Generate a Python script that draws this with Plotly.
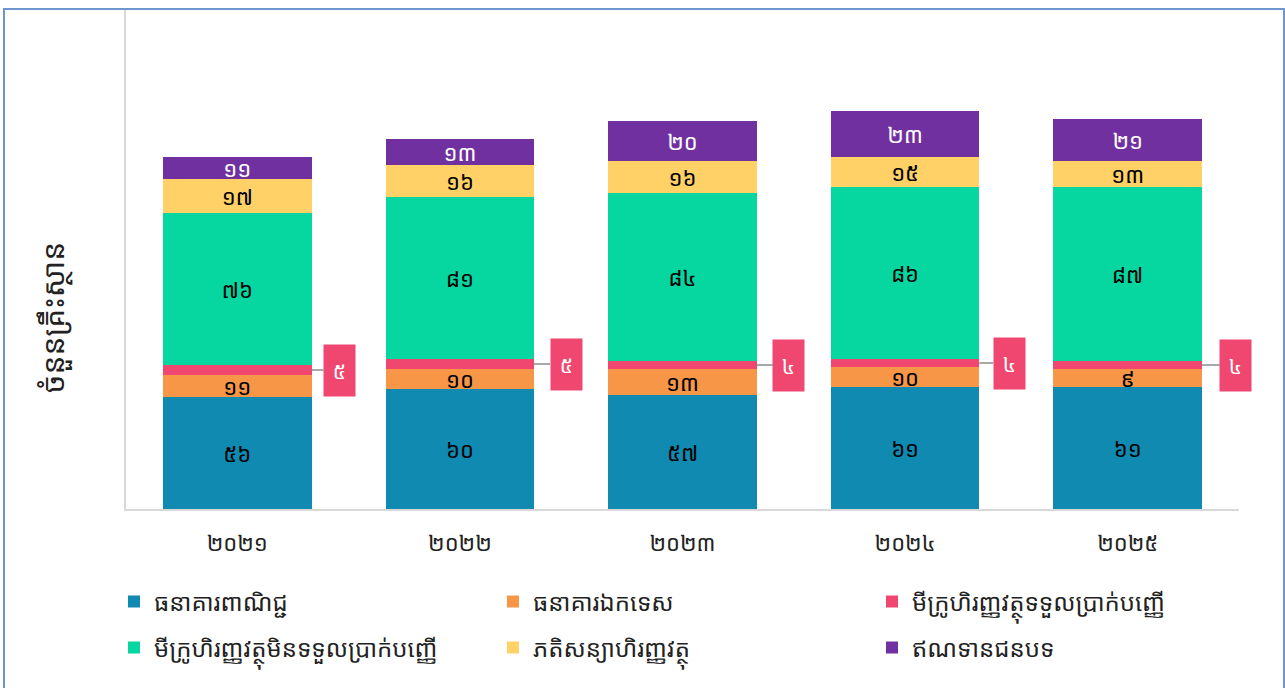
import plotly.graph_objects as go

years = ["២០២១", "២០២២", "២០២៣", "២០២៤", "២០២៥"]
series_names = [
    "ធនាគារពាណិជ្ជ",
    "ធនាគារឯកទេស",
    "មីក្រូហិរញ្ញវត្ថុទទួលប្រាក់បញ្ញើ",
    "មីក្រូហិរញ្ញវត្ថុមិនទទួលប្រាក់បញ្ញើ",
    "ភតិសន្យាហិរញ្ញវត្ថុ",
    "ឥណទានជនបទ",
]
commercial_banks = [56, 60, 57, 61, 61]
specialized_banks = [11, 10, 13, 10, 9]
mdi = [5, 5, 4, 4, 4]
mfi = [76, 81, 84, 86, 87]
leasing = [17, 16, 16, 15, 13]
rural_credit = [11, 13, 20, 23, 21]
y_title = "ចំនួនគ្រឹះស្ថាន"

series_values = [commercial_banks, specialized_banks, mdi, mfi, leasing, rural_credit]
colors = ["#118AB2", "#F79646", "#EF476F", "#06D6A0", "#FFD166", "#7030A0"]
text_colors = ["#000000", "#000000", "#FFFFFF", "#000000", "#000000", "#FFFFFF"]

KH = "០១២៣៤៥៦៧៨៩"
def kh(n):
    return "".join(KH[int(c)] for c in str(n))

FONT = "Noto Sans Khmer, Khmer OS, Khmer OS System, Noto Sans, sans-serif"

fig = go.Figure()
x = list(range(len(years)))
for i, (name, vals) in enumerate(zip(series_names, series_values)):
    show_text = i != 2
    fig.add_trace(go.Bar(
        x=x, y=vals, name=name,
        marker=dict(color=colors[i], line=dict(width=0)),
        text=[kh(v) for v in vals] if show_text else None,
        textposition="inside" if show_text else "none",
        insidetextanchor="middle",
        textangle=0,
        textfont=dict(color=text_colors[i], size=22, family=FONT),
        legend="legend" if i < 3 else "legend2",
        hoverinfo="skip",
    ))

# pink callouts for the deposit-taking MFI series
offsets = [28, 32, 32, 30, 34]
for j in range(len(years)):
    base = commercial_banks[j] + specialized_banks[j]
    mid = base + mdi[j] / 2
    fig.add_annotation(
        x=j + 0.3333, y=mid, xref="x", yref="y",
        text=kh(mdi[j]), showarrow=True, arrowhead=0, arrowwidth=1.5,
        arrowcolor="#8C8C8C", ax=offsets[j], ay=0, axref="pixel", ayref="pixel",
        bgcolor="#EF476F", width=31, height=51, borderpad=0,
        font=dict(color="#FFFFFF", size=21, family=FONT),
    )

# frame and layout geometry (pixels)
FW, FH = 1285, 688
L, T, W, H = 126, 10, 1113, 499
def px(xp):
    return (xp - L) / W
def py(yp):
    return (T + H - yp) / H

fig.add_shape(type="rect", xref="paper", yref="paper",
              x0=px(4), x1=px(1284), y0=py(700), y1=py(9),
              line=dict(color="#6E95D0", width=2), fillcolor="rgba(0,0,0,0)")

# y axis title placed like the reference
fig.add_annotation(
    x=px(52), y=py(318), xref="paper", yref="paper",
    text=y_title, textangle=-90, showarrow=False,
    font=dict(size=30, family=FONT, color="#222222"),
    xanchor="center", yanchor="middle",
)

legend_common = dict(
    orientation="h", xref="paper", yref="paper",
    x=px(114), xanchor="left", yanchor="middle",
    entrywidth=334, entrywidthmode="pixels", traceorder="normal",
    font=dict(size=24, family=FONT, color="#222222"), bgcolor="rgba(0,0,0,0)",
)

fig.update_layout(
    width=FW, height=FH,
    barmode="stack", bargap=0.333,
    paper_bgcolor="white", plot_bgcolor="white",
    margin=dict(l=L, r=FW - L - W, t=T, b=FH - T - H, autoexpand=False),
    font=dict(family=FONT, color="#222222"),
    uniformtext=dict(minsize=22, mode="show"),
    showlegend=True,
    legend=dict(y=py(602), **legend_common),
    legend2=dict(y=py(648), **legend_common),
)
fig.update_xaxes(
    tickmode="array", tickvals=x, ticktext=years,
    range=[-0.5, 4.5], showline=True, linecolor="#D9D9D9", linewidth=2,
    showgrid=False, zeroline=False, ticks="outside", ticklen=14,
    tickcolor="rgba(0,0,0,0)", automargin=False,
    tickfont=dict(size=22, family=FONT, color="#222222"),
)
fig.update_yaxes(
    range=[0, 249.5], showline=True, linecolor="#D9D9D9", linewidth=2,
    showgrid=False, zeroline=False, showticklabels=False, ticks="",
    automargin=False,
)

fig.write_html("out.html", config={"displayModeBar": False},
               post_script="document.body.style.margin='0px';")
